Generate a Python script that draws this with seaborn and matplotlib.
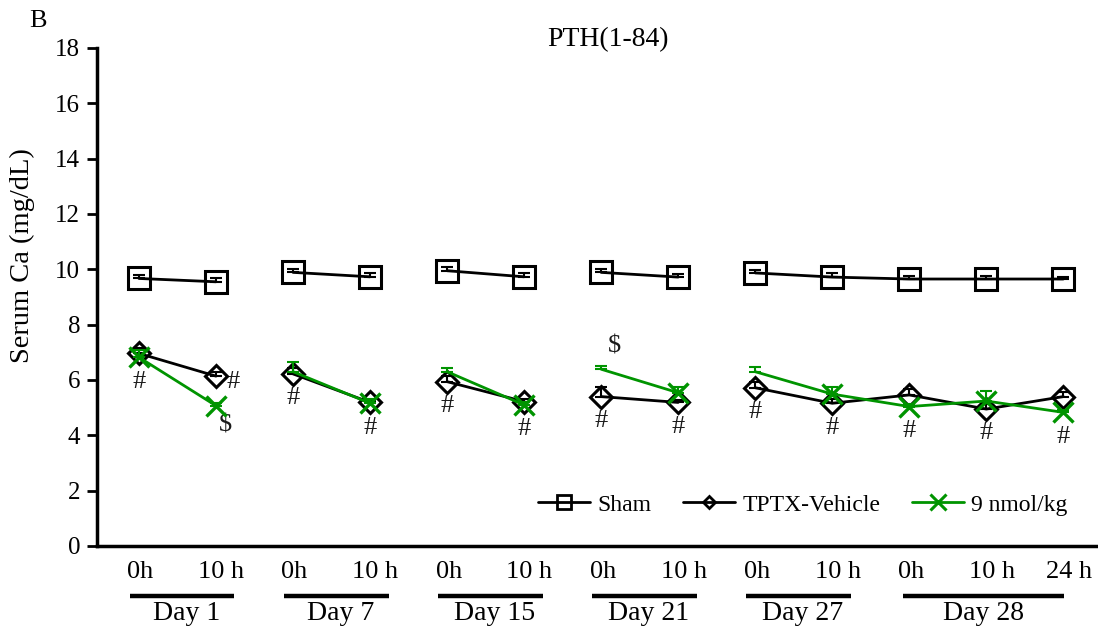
import numpy as np
import pandas as pd
import matplotlib
matplotlib.use("Agg")
import matplotlib.pyplot as plt
import matplotlib.transforms as mtransforms
from matplotlib.lines import Line2D
import seaborn as sns

# ---------------- data ----------------
hour_labels = ['0h', '10 h', '0h', '10 h', '0h', '10 h', '0h', '10 h', '0h', '10 h', '0h', '10 h', '24 h']
day_labels = ['Day 1', 'Day 7', 'Day 15', 'Day 21', 'Day 27', 'Day 28']
day_group = [0, 0, 1, 1, 2, 2, 3, 3, 4, 4, 5, 5, 5]
line_segment = [0, 0, 1, 1, 2, 2, 3, 3, 4, 4, 4, 4, 4]

sham = [9.67, 9.55, 9.89, 9.73, 9.95, 9.73, 9.89, 9.72, 9.87, 9.72, 9.65, 9.65, 9.65]
sham_err = [0.12, 0.12, 0.12, 0.12, 0.12, 0.12, 0.12, 0.12, 0.12, 0.15, 0.10, 0.12, 0.08]
tptx = [6.96, 6.14, 6.22, 5.19, 5.94, 5.22, 5.40, 5.19, 5.72, 5.16, 5.46, 4.95, 5.40]
tptx_err = [0.20, 0.15, 0.20, 0.10, 0.20, 0.10, 0.36, 0.10, 0.20, 0.15, 0.20, 0.20, 0.15]
dose = [6.82, 5.07, 6.30, 5.16, 6.30, 5.10, 6.39, 5.54, 6.30, 5.49, 5.04, 5.24, 4.83]
dose_err = [0.25, 0.10, 0.35, 0.15, 0.14, 0.10, 0.13, 0.20, 0.18, 0.27, 0.10, 0.37, 0.10]
dose_marker_shown = [True, True, False, True, False, True, False, True, False, True, True, True, True]

hash_points = list(range(13))      # '#' marks (TPTX vs Sham)
dollar_points = [1, 6]             # '$' marks

series_names = ['Sham', 'TPTX-Vehicle', '9 nmol/kg']
title = 'PTH(1-84)'
ylabel = 'Serum Ca (mg/dL)'

# ---------------- style ----------------
sns.set_theme(style='white')
plt.rcParams['font.family'] = ['Liberation Serif', 'DejaVu Serif']
plt.rcParams['mathtext.default'] = 'regular'
plt.rcParams['text.color'] = 'black'
plt.rcParams['axes.labelcolor'] = 'black'
plt.rcParams['ytick.color'] = 'black'

GREEN = '#009400'
TXT = '#1a1a1a'
W, H = 1098, 639
fig = plt.figure(figsize=(W / 100, H / 100), dpi=100)
ax = fig.add_axes([97 / W, 1 - 546 / H, (W - 97) / W, (546 - 48) / H])

x = np.arange(len(hour_labels))
df = pd.DataFrame({'x': x, 'seg': line_segment, 'Sham': sham, 'TPTX': tptx, 'Dose': dose})

# lines
sns.lineplot(data=df, x='x', y='Sham', units='seg', estimator=None, color='black',
             lw=2.0, ax=ax, zorder=3)
sns.lineplot(data=df, x='x', y='TPTX', units='seg', estimator=None, color='black',
             lw=2.0, ax=ax, zorder=4)
sns.lineplot(data=df, x='x', y='Dose', units='seg', estimator=None, color=GREEN,
             lw=2.0, ax=ax, zorder=6)

# error bars (upper only)
z = np.zeros(len(x))
ax.errorbar(x, sham, yerr=[z, sham_err], fmt='none', ecolor='black', elinewidth=1.5,
            capsize=4, capthick=1.5, zorder=3)
ax.errorbar(x, tptx, yerr=[z, tptx_err], fmt='none', ecolor='black', elinewidth=1.5,
            capsize=4, capthick=1.5, zorder=4)
ax.errorbar(x, dose, yerr=[z, dose_err], fmt='none', ecolor=GREEN, elinewidth=1.5,
            capsize=4, capthick=1.5, zorder=6)

# markers
ax.plot(x, sham, ls='none', marker='s', ms=16, mfc='none', mec='black', mew=2.2, zorder=3)
ax.plot(x, tptx, ls='none', marker='D', ms=11, mfc='none', mec='black', mew=2.2, zorder=4)
mx = [xi for xi, s in zip(x, dose_marker_shown) if s]
my = [yi for yi, s in zip(dose, dose_marker_shown) if s]
ax.plot(mx, my, ls='none', marker='x', ms=15, mec=GREEN, mew=2.4, zorder=7)

# significance marks
FS_MARK = 19
for i in hash_points:
    if i == 1:
        ax.annotate('#', xy=(i, tptx[i]), xytext=(12, -4), textcoords='offset points',
                    ha='center', va='center', fontsize=FS_MARK, color=TXT)
    else:
        base = min(tptx[i], dose[i])
        ax.annotate('#', xy=(i, base), xytext=(0, -17.5), textcoords='offset points',
                    ha='center', va='center', fontsize=FS_MARK, color=TXT)
for i in dollar_points:
    if i == 1:
        ax.annotate('$', xy=(i, dose[i]), xytext=(7, -14), textcoords='offset points',
                    ha='center', va='center', fontsize=FS_MARK, color=TXT)
    else:
        ax.annotate('$', xy=(i, dose[i] + dose_err[i]), xytext=(9.5, 13.5),
                    textcoords='offset points', ha='center', va='center',
                    fontsize=FS_MARK, color=TXT)

# axes
ax.set_xlim(-0.545, 12.45)
ax.set_ylim(0, 18)
ax.set_yticks(np.arange(0, 19, 2))
ax.set_xticks([])
ax.set_xlabel('')
ax.set_ylabel('')
ax.tick_params(axis='y', direction='out', length=7, width=2, labelsize=18, pad=5,
               left=True, labelcolor='black', color='black')
for s in ['top', 'right']:
    ax.spines[s].set_visible(False)
ax.spines['left'].set_linewidth(2.5)
ax.spines['bottom'].set_linewidth(2.5)
ax.spines['left'].set_color('black')
ax.spines['bottom'].set_color('black')

# hour / day labels under the axis
tr = mtransforms.blended_transform_factory(ax.transData, fig.transFigure)
for i, lab in enumerate(hour_labels):
    dx = 0.07 if lab != '0h' else 0.02
    ax.text(i + dx, 1 - 572 / H, lab, transform=tr, ha='center', va='center',
            fontsize=19, color='black')
groups = sorted(set(day_group))
for g in groups:
    idx = [i for i, d in enumerate(day_group) if d == g]
    if len(idx) == 2:
        x0, x1 = min(idx) - 0.12, max(idx) + 0.24
        xc = (min(idx) + max(idx)) / 2 + 0.12
    else:
        x0, x1 = min(idx) - 0.08, max(idx) + 0.01
        xc = (min(idx) + max(idx)) / 2 - 0.03
    ax.plot([x0, x1], [1 - 596 / H] * 2, transform=tr, color='black', lw=3.2,
            clip_on=False, solid_capstyle='butt')
    ax.text(xc, 1 - 614 / H, day_labels[g], transform=tr, ha='center', va='center',
            fontsize=20, color='black')

# title, panel letter, y label
fig.text(608 / W, 1 - 40 / H, title, ha='center', va='center', fontsize=20, color='black')
fig.text(38 / W, 1 - 21 / H, 'B', ha='center', va='center', fontsize=19, color='black')
fig.text(22 / W, 1 - 256 / H, ylabel, ha='center', va='center', rotation=90,
         fontsize=20.5, color='black')

# legend
handles = [
    Line2D([], [], color='black', lw=2, marker='s', ms=10, mfc='none', mec='black', mew=2),
    Line2D([], [], color='black', lw=2, marker='D', ms=6.5, mfc='none', mec='black', mew=2),
    Line2D([], [], color=GREEN, lw=2, marker='x', ms=11, mec=GREEN, mew=2.2),
]
leg = fig.legend(handles, series_names, loc='center', bbox_to_anchor=(803 / W, 1 - 505 / H),
                 ncol=3, frameon=False, fontsize=17, handlelength=2.2, handletextpad=0.3,
                 columnspacing=1.35, borderpad=0.0)
for t in leg.get_texts():
    t.set_color('black')

fig.savefig('out.png', dpi=100)
